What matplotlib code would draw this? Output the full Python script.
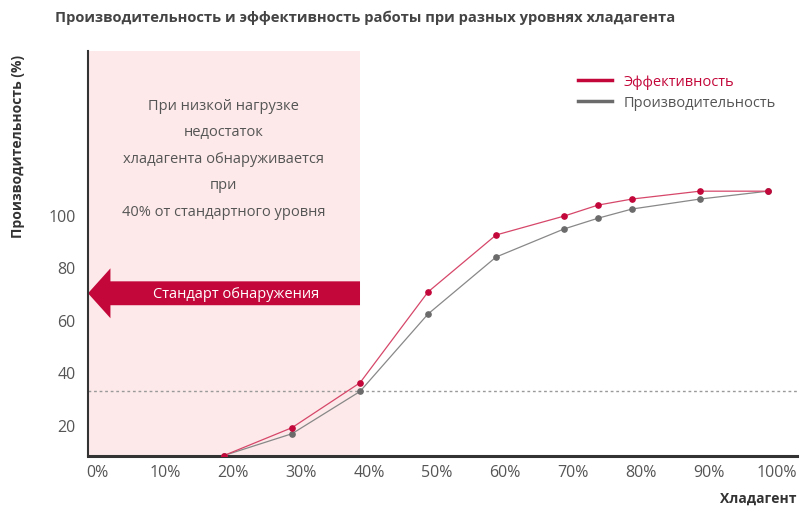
import matplotlib
matplotlib.use("Agg")
import matplotlib.pyplot as plt
import matplotlib.transforms as mtransforms
from matplotlib.lines import Line2D
from matplotlib.patches import FancyArrow

plt.rcParams['font.family'] = ['Open Sans', 'DejaVu Sans']

# Refrigerant charge (%) and resulting curves
charge = [20, 30, 40, 50, 60, 70, 75, 80, 90, 100]
efficiency = [8.3, 18.9, 36.0, 70.6, 92.3, 99.5, 103.7, 106.0, 109.0, 109.0]
capacity = [8.3, 16.6, 32.7, 62.2, 83.9, 94.6, 98.7, 102.2, 106.0, 109.0]
detect_level = 32.7

x_ticks = [0, 10, 20, 30, 40, 50, 60, 70, 80, 90, 100]
x_labels = [f"{v}%" for v in x_ticks]
y_ticks = [20, 40, 60, 80, 100]

title = "Производительность и эффективность работы при разных уровнях хладагента"
note_lines = ["При низкой нагрузке", "недостаток", "хладагента обнаруживается",
              "при", "40% от стандартного уровня"]
arrow_text = "Стандарт обнаружения"
series_names = ["Эффективность", "Производительность"]

RED = "#c3073a"
GRAY = "#6b6b6b"
TEXT = "#555555"
PINK = "#fde9e9"

fig = plt.figure(figsize=(8.04, 5.10), dpi=100)
ax = fig.add_axes([88 / 804, 53.5 / 510, 709 / 804, 404.5 / 510])
ax.set_xlim(0, 104.26)
ax.set_ylim(8.3, 162.4)

# low-charge region
ax.axvspan(0, 40, color=PINK, lw=0, zorder=0)
# detection threshold
ax.axhline(detect_level, color="#9a9a9a", lw=1.0, ls=(0, (2, 2)), zorder=1)

ax.plot(charge, capacity, color="#888888", lw=0.9, zorder=3)
ax.plot(charge, capacity, ls="none", marker="o", ms=3.8, color=GRAY, zorder=4)
ax.plot(charge, efficiency, color="#d6476a", lw=0.9, zorder=5)
ax.plot(charge, efficiency, ls="none", marker="o", ms=3.8, color=RED, zorder=6)

# detection arrow
arrow = FancyArrow(40, 70.1, -40, 0, width=9.1, head_width=19.0, head_length=3.3,
                   length_includes_head=True, color=RED, lw=0, zorder=2)
ax.add_patch(arrow)
ax.text(21.8, 70.1, arrow_text, color="white", fontsize=10.5,
        ha="center", va="center", zorder=7)

# note text
note_y = [141.8, 131.7, 121.4, 111.5, 101.2]
for line, yv in zip(note_lines, note_y):
    ax.text(19.9, yv, line, color=TEXT, fontsize=10.5, ha="center", va="center")

# axes styling
for side in ["top", "right"]:
    ax.spines[side].set_visible(False)
ax.spines["left"].set_color("#333333")
ax.spines["left"].set_linewidth(1.5)
ax.spines["bottom"].set_color("#333333")
ax.spines["bottom"].set_linewidth(2.2)

ax.set_xticks(x_ticks)
ax.set_xticklabels(x_labels)
ax.set_yticks(y_ticks)
ax.tick_params(axis="both", length=0, labelsize=11.5, labelcolor=TEXT)
ax.tick_params(axis="x", pad=6)
ax.tick_params(axis="y", pad=9)
shift = mtransforms.ScaledTranslation(9 / 100, 0, fig.dpi_scale_trans)
for lab in ax.get_xticklabels():
    lab.set_transform(lab.get_transform() + shift)

fig.text(55 / 804, 1 - 17.5 / 510, title, fontsize=10.65, fontweight="bold",
         color="#444444", ha="left", va="center")
fig.text(18 / 804, 1 - 147 / 510, "Производительность (%)", fontsize=10,
         fontweight="bold", color="#333333", rotation=90, ha="center", va="center")
fig.text(797 / 804, 1 - 499 / 510, "Хладагент", fontsize=10, fontweight="bold",
         color="#333333", ha="right", va="center")

handles = [Line2D([], [], color=RED, lw=2.5), Line2D([], [], color=GRAY, lw=2.5)]
leg = ax.legend(handles, series_names, loc="upper left", frameon=False,
                bbox_to_anchor=(578 / 804, 1 - 75.5 / 510), bbox_transform=fig.transFigure,
                fontsize=10.5, handlelength=2.3, handletextpad=0.8, labelspacing=0.38,
                borderpad=0, borderaxespad=0)
for txt, c in zip(leg.get_texts(), [RED, TEXT]):
    txt.set_color(c)

fig.savefig("out.png", dpi=100)
